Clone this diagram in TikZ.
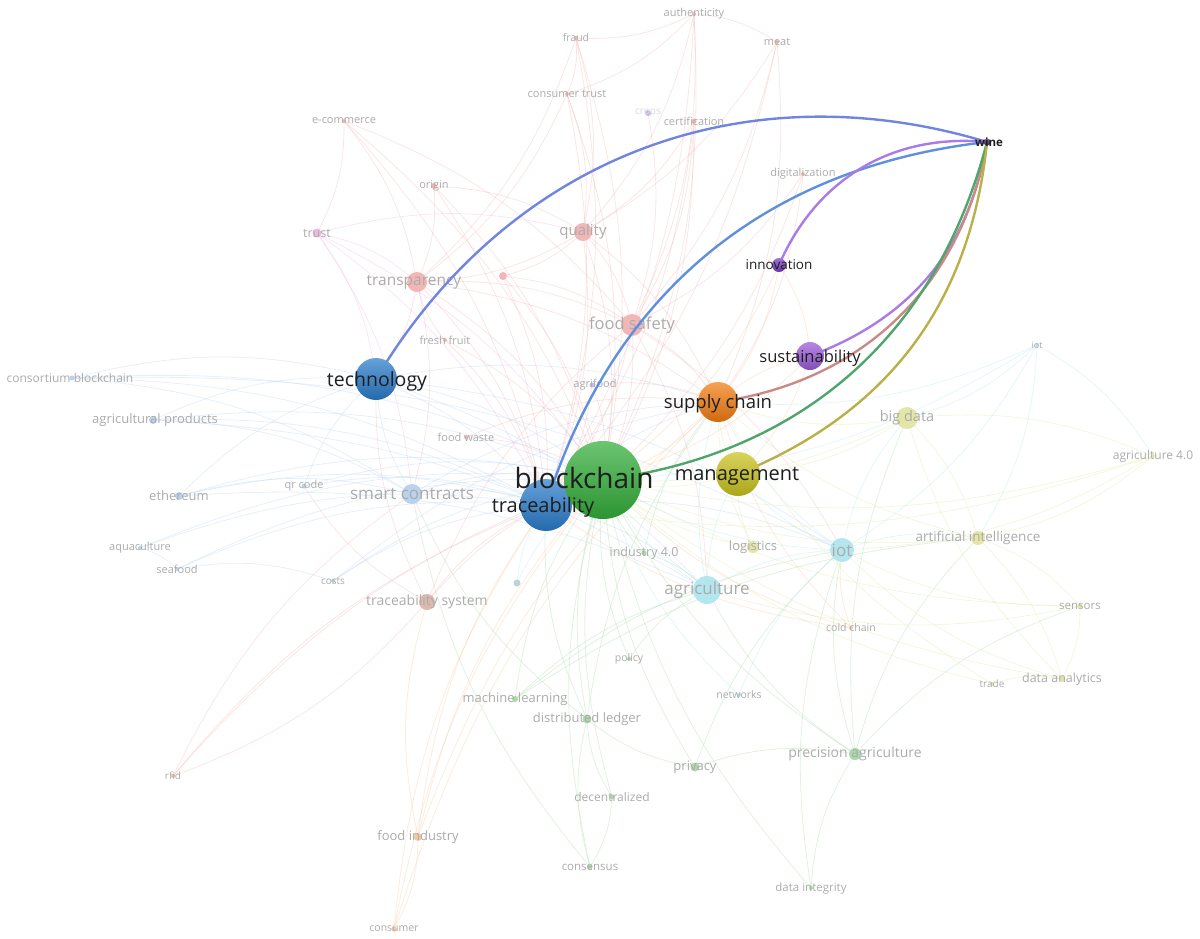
\documentclass[tikz,border=0pt]{standalone}
\usepackage{fontspec}
\setmainfont{Open Sans}
\tikzset{dot/.style = {circle, inner sep = 0, minimum size = #1}}
\tikzset{lbl/.style = {text = lgray, inner sep = 0, font = \fontsize{#1}{#1}\selectfont}}
\tikzset{hub/.style = {circle, inner sep = 0, top color = #1!72!white, bottom color = #1!85!black}}
\tikzset{hublbl/.style = {text = mtext, inner sep = 0, font = \fontsize{#1}{#1}\selectfont}}
\tikzset{faint/.style = {draw = #1, line width = 0.8, opacity = 0.35}}
\tikzset{tie/.style = {draw = #1, line width = 2.4}}
\definecolor{mblue}{HTML}{2A7CCB}
\definecolor{mgreen}{HTML}{33AE3A}
\definecolor{morange}{HTML}{F27D12}
\definecolor{molive}{HTML}{C9C31E}
\definecolor{mpurple}{HTML}{9A5AD8}
\definecolor{mviolet}{HTML}{7A3CC4}
\definecolor{mwine}{HTML}{4B2A78}
\definecolor{mtext}{HTML}{1E1E1E}
\definecolor{lgray}{HTML}{ABABAB}
\definecolor{fred}{HTML}{F2B6B6}
\definecolor{fpink}{HTML}{EDB8E2}
\definecolor{fblue}{HTML}{B9D2EE}
\definecolor{fgreen}{HTML}{A9D9A9}
\definecolor{fcyan}{HTML}{B4E6EF}
\definecolor{fyellow}{HTML}{E3E6A8}
\definecolor{forange}{HTML}{F4C8A0}
\definecolor{fbrown}{HTML}{DDBAB0}
\definecolor{fviolet}{HTML}{C8B8E8}
\definecolor{ltech}{HTML}{7085E0}
\definecolor{ltrace}{HTML}{5F90E0}
\definecolor{lpurple}{HTML}{A97BE6}
\definecolor{lsupply}{HTML}{C98A8A}
\definecolor{lgreen}{HTML}{4FA56A}
\definecolor{lolive}{HTML}{B9B04A}
\pgfdeclarelayer{bottom}
\pgfdeclarelayer{links}
\pgfdeclarelayer{hubs}
\pgfsetlayers{bottom,main,links,hubs}
\begin{document}
\begin{tikzpicture}[x=1pt, y=-1pt]
      \useasboundingbox (0, 0) rectangle (1200, 938);

      \node [dot=4, fill=fred, label={[lbl=11]center:authenticity}] (auth) at (694, 14) {};
      \node [dot=4, fill=fred, label={[lbl=10.5]center:fraud}] (fraud) at (576, 38) {};
      \node [dot=4, fill=fred, label={[lbl=11]center:meat}] (meat) at (777, 42) {};
      \node [dot=4, fill=fred, label={[lbl=11]center:consumer trust}] (ctrust) at (567, 94) {};
      \node [dot=6, fill=fviolet, label={[lbl=10, text=lgray!45]center:crops}] (crops) at (648, 113) {};
      \node [dot=5, fill=fred, label={[lbl=11]center:certification}] (cert) at (694, 121) {};
      \node [dot=4, fill=fred, label={[lbl=11]center:e-commerce}] (ecom) at (344, 121) {};
      \node [dot=4, fill=fred, label={[lbl=11]center:digitalization}] (digit) at (803, 174) {};
      \node [dot=6, fill=fred, label={[lbl=11]center:origin}] (origin) at (434, 186) {};
      \node [dot=9, fill=fpink, label={[lbl=12.5]center:trust}] (trust) at (317, 233) {};
      \node [dot=18, fill=fred, label={[lbl=15]center:quality}] (quality) at (583, 232) {};
      \node [dot=20, fill=fred, label={[lbl=15.5, xshift=-3]center:transparency}] (transp) at (417, 282) {};
      \node [dot=8, fill=fred] (redspot) at (503, 276) {};
      \node [dot=22, fill=fred, label={[lbl=16.5]center:food safety}] (fsafety) at (632, 325) {};
      \node [dot=4, fill=fred, label={[lbl=11]center:fresh fruit}] (fruit) at (445, 340) {};
      \node [dot=5, fill=fviolet, label={[lbl=11, xshift=3]center:agrifood}] (agrifood) at (592, 385) {};
      \node [dot=4, fill=fred, label={[lbl=11]center:food waste}] (fwaste) at (466, 437) {};
      \node [dot=16, fill=fbrown, label={[lbl=14]center:traceability system}] (tsys) at (427, 602) {};
      \node [dot=4, fill=fred, label={[lbl=10]center:rfid}] (rfid) at (173, 776) {};

      \node [dot=5, fill=fblue, label={[lbl=12, xshift=-2]center:consortium blockchain}] (consort) at (72, 378) {};
      \node [dot=8, fill=fblue, label={[lbl=13, xshift=2]center:agricultural products}] (agprod) at (153, 420) {};
      \node [dot=8, fill=fblue, label={[lbl=13]center:ethereum}] (eth) at (179, 496) {};
      \node [dot=5, fill=fblue, label={[lbl=11]center:qr code}] (qr) at (304, 486) {};
      \node [dot=20, fill=fblue, label={[lbl=17]center:smart contracts}] (smart) at (412, 494) {};
      \node [dot=4, fill=fblue, label={[lbl=11]center:aquaculture}] (aqua) at (140, 548) {};
      \node [dot=4, fill=fblue, label={[lbl=11]center:seafood}] (seafood) at (177, 569) {};
      \node [dot=4, fill=fblue, label={[lbl=10]center:costs}] (costs) at (333, 581) {};

      \node [dot=5, fill=fgreen, label={[lbl=12.5]center:industry 4.0}] (ind) at (644, 553) {};
      \node [dot=4, fill=fgreen, label={[lbl=10.5]center:policy}] (policy) at (629, 659) {};
      \node [dot=6, fill=fgreen, label={[lbl=13]center:machine learning}] (ml) at (515, 699) {};
      \node [dot=9, fill=fgreen, label={[lbl=13]center:distributed ledger}] (dledger) at (587, 719) {};
      \node [dot=4, fill=fcyan, label={[lbl=10.5]center:networks}] (networks) at (739, 695) {};
      \node [dot=9, fill=fgreen, label={[lbl=13]center:privacy}] (privacy) at (695, 767) {};
      \node [dot=5, fill=fgreen, label={[lbl=12]center:decentralized}] (decent) at (612, 797) {};
      \node [dot=5, fill=fgreen, label={[lbl=11.5]center:consensus}] (consensus) at (590, 867) {};
      \node [dot=12, fill=fgreen, label={[lbl=14]center:precision agriculture}] (precag) at (855, 754) {};
      \node [dot=4, fill=fgreen, label={[lbl=11.5]center:data integrity}] (dinteg) at (811, 888) {};

      \node [dot=28, fill=fcyan, label={[lbl=17]center:agriculture}] (agri) at (707, 590) {};
      \node [dot=24, fill=fcyan, label={[lbl=17]center:iot}] (iot) at (842, 550) {};
      \node [dot=4, fill=fcyan, label={[lbl=9]center:iot}] (iotr) at (1037, 345) {};
      \node [dot=7, fill=fcyan!80!black!60] (cyanspot) at (517, 583) {};

      \node [dot=22, fill=fyellow, label={[lbl=14.5]center:big data}] (bigdata) at (907, 418) {};
      \node [dot=12, fill=fyellow, label={[lbl=13]center:logistics}] (logistics) at (753, 547) {};
      \node [dot=4, fill=fyellow, label={[lbl=12]center:agriculture 4.0}] (ag40) at (1153, 456) {};
      \node [dot=14, fill=fyellow, label={[lbl=13.5]center:artificial intelligence}] (ai) at (978, 538) {};
      \node [dot=5, fill=fyellow, label={[lbl=11.5]center:sensors}] (sensors) at (1080, 606) {};
      \node [dot=6, fill=fyellow, label={[lbl=12.5]center:data analytics}] (danal) at (1062, 679) {};
      \node [dot=4, fill=fyellow, label={[lbl=10]center:trade}] (trade) at (992, 684) {};
      \node [dot=4, fill=forange, label={[lbl=10.5]center:cold chain}] (cold) at (851, 628) {};
      \node [dot=8, fill=forange, label={[lbl=13]center:food industry}] (findustry) at (418, 837) {};
      \node [dot=5, fill=forange, label={[lbl=10.5]center:consumer}] (consumer) at (394, 929) {};

      \begin{pgfonlayer}{hubs}
        \node [hub=mblue, minimum size=42] (tech) at (376, 379) {};
        \node [hub=mblue, minimum size=52] (trace) at (546, 505) {};
        \node [hub=mgreen, minimum size=78] (blockchain) at (603, 480) {};
        \node [hub=morange, minimum size=40] (supply) at (718, 402) {};
        \node [hub=molive, minimum size=44] (manage) at (738, 474) {};
        \node [hub=mpurple, minimum size=28] (sustain) at (810, 356) {};
        \node [hub=mviolet, minimum size=14] (innov) at (779, 265) {};
        \node [hub=mwine, minimum size=7] (wine) at (987, 142) {};

        \node [hublbl=19.5] (tech-t) at (377, 381) {technology};
        \node [hublbl=20] (trace-t) at (543, 507) {traceability};
        \node [hublbl=28] (blockchain-t) at (584, 478) {blockchain};
        \node [hublbl=18.5] (supply-t) at (718, 404) {supply chain};
        \node [hublbl=20] (manage-t) at (737, 476) {management};
        \node [hublbl=16.5] (sustain-t) at (810, 358) {sustainability};
        \node [hublbl=13.5] (innov-t) at (779, 265) {innovation};
        \node [hublbl=11.5, font=\fontsize{11.5}{11.5}\selectfont\bfseries] (wine-t) at (989, 142) {wine};
      \end{pgfonlayer}

      \begin{pgfonlayer}{bottom}
        \foreach \a/\b in {auth/fraud, auth/meat, auth/ctrust, auth/quality, auth/fsafety, auth/blockchain, auth/trace,
          fraud/ctrust, fraud/quality, fraud/transp, fraud/trace, fraud/blockchain, meat/quality, meat/fsafety,
          meat/supply, meat/trace, ctrust/quality, ctrust/transp, ctrust/blockchain, ctrust/trace, cert/quality,
          cert/fsafety, cert/blockchain, cert/trace, crops/fsafety, digit/supply, digit/blockchain, digit/fsafety,
          ecom/trust, ecom/transp, ecom/trace, ecom/blockchain, ecom/fsafety, origin/transp, origin/quality,
          origin/trace, origin/blockchain, quality/fsafety, quality/transp, quality/trace, quality/blockchain,
          quality/supply, quality/redspot, transp/tech, transp/trace, transp/blockchain, transp/fsafety,
          transp/supply, transp/smart, fsafety/trace, fsafety/blockchain, fsafety/supply, fsafety/agri, fsafety/iot,
          fruit/trace, fruit/blockchain, fruit/transp, redspot/fsafety, redspot/trace, redspot/blockchain,
          agrifood/blockchain, agrifood/supply, agrifood/trace, fwaste/blockchain, fwaste/supply, tsys/trace,
          tsys/blockchain, tsys/tech, tsys/qr, tsys/rfid, tsys/fsafety, rfid/trace, rfid/blockchain, rfid/smart}
          \draw [faint=fred] (\a.center) to [bend left=14] (\b.center);
        \foreach \a/\b in {trust/transp, trust/tech, trust/blockchain, trust/trace, trust/smart, trust/quality}
          \draw [faint=fpink] (\a.center) to [bend left=14] (\b.center);
        \foreach \a/\b in {consort/blockchain, consort/trace, consort/tech, consort/smart, consort/iot,
          agprod/blockchain, agprod/trace, agprod/tech, agprod/smart, agprod/agri, eth/smart, eth/blockchain,
          eth/trace, eth/tech, eth/agri, qr/trace, qr/blockchain, qr/tech, smart/blockchain, smart/trace,
          smart/tech, smart/supply, aqua/trace, aqua/blockchain, aqua/seafood, seafood/trace, seafood/blockchain,
          seafood/costs, costs/blockchain, costs/trace, costs/supply, tech/blockchain, tech/trace, tech/supply,
          tech/agri, tech/iot, trace/agri, trace/iot, trace/supply}
          \draw [faint=fblue] (\a.center) to [bend left=14] (\b.center);
        \foreach \a/\b in {ind/blockchain, ind/supply, ind/agri, policy/blockchain, policy/agri, ml/blockchain,
          ml/iot, ml/agri, ml/ai, dledger/blockchain, dledger/trace, dledger/supply, dledger/smart,
          privacy/blockchain, privacy/iot, privacy/precag, privacy/dledger, decent/blockchain, decent/dledger,
          decent/consensus, consensus/blockchain, consensus/dledger, consensus/smart, precag/blockchain,
          precag/iot, precag/agri, precag/ai, precag/bigdata, precag/sensors, dinteg/blockchain, dinteg/iot,
          dinteg/precag}
          \draw [faint=fgreen] (\a.center) to [bend left=14] (\b.center);
        \foreach \a/\b in {agri/blockchain, agri/iot, agri/supply, agri/manage, iot/blockchain, iot/supply,
          iot/bigdata, iot/ai, iot/manage, iotr/blockchain, iotr/iot, iotr/bigdata, iotr/ag40, iotr/ai,
          iotr/supply, cyanspot/blockchain, cyanspot/trace, networks/iot, networks/blockchain}
          \draw [faint=fcyan] (\a.center) to [bend left=14] (\b.center);
        \foreach \a/\b in {bigdata/blockchain, bigdata/supply, bigdata/manage, bigdata/ai, bigdata/ag40,
          logistics/blockchain, logistics/supply, logistics/manage, ag40/blockchain, ag40/ai, ag40/iot,
          ag40/trace, ai/blockchain, ai/supply, ai/sensors, ai/danal, sensors/iot, sensors/blockchain,
          sensors/danal, sensors/agri, danal/blockchain, danal/bigdata, danal/iot, trade/blockchain,
          trade/supply, trade/danal, manage/blockchain, manage/supply}
          \draw [faint=fyellow] (\a.center) to [bend left=14] (\b.center);
        \foreach \a/\b in {cold/supply, cold/blockchain, cold/iot, cold/trace, findustry/blockchain,
          findustry/trace, findustry/supply, findustry/consumer, findustry/tsys, consumer/blockchain,
          consumer/trace, consumer/supply, supply/sustain, supply/blockchain, sustain/blockchain, sustain/manage,
          innov/blockchain, innov/supply, innov/sustain}
          \draw [faint=forange] (\a.center) to [bend left=14] (\b.center);
      \end{pgfonlayer}

      \begin{pgfonlayer}{links}
        \draw [tie=ltech] (tech.center) to [bend left=38] (wine.center);
        \draw [tie=ltrace] (trace.center) to [bend left=33] (wine.center);
        \draw [tie=lpurple] (innov.center) to [bend left=36] (wine.center);
        \draw [tie=lpurple] (sustain.center) to [bend right=30] (wine.center);
        \draw [tie=lsupply] (supply.center) to [bend right=36] (wine.center);
        \draw [tie=lgreen] (blockchain.center) to [bend right=34] (wine.center);
        \draw [tie=lolive] (manage.center) to [bend right=31] (wine.center);
      \end{pgfonlayer}
    \end{tikzpicture}
\end{document}
